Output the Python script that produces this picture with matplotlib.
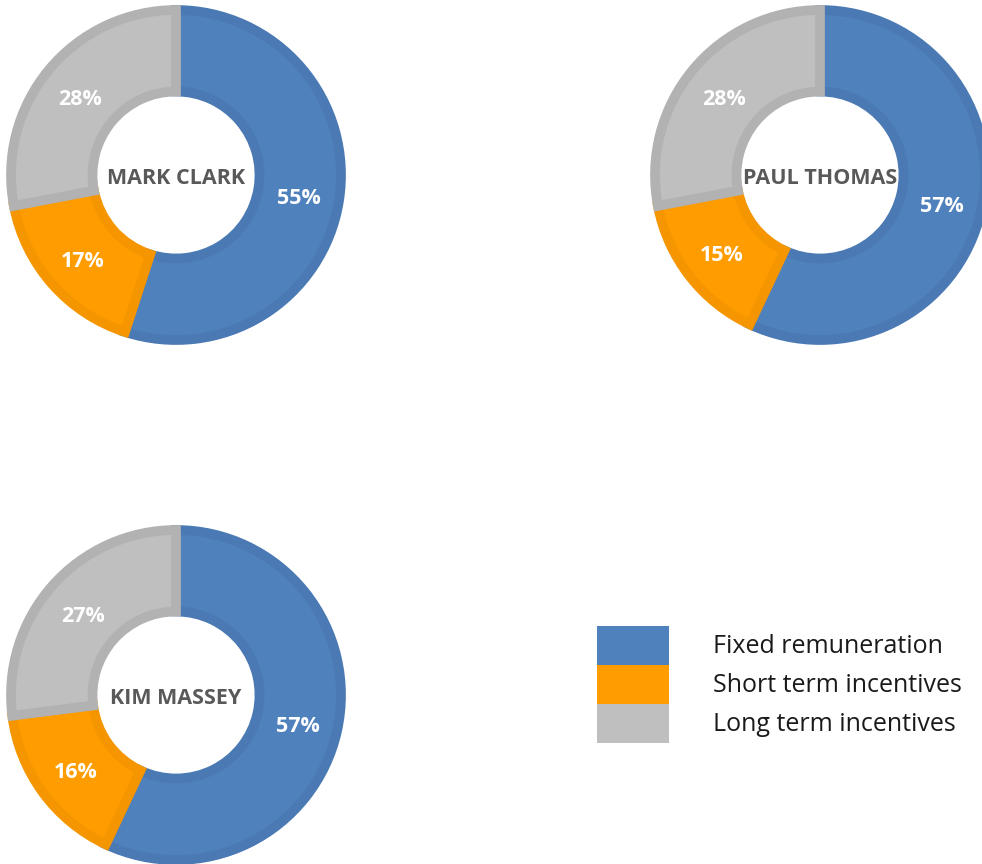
import matplotlib
matplotlib.use("Agg")
import matplotlib.pyplot as plt
from matplotlib.patches import Rectangle

names = ["MARK CLARK", "PAUL THOMAS", "KIM MASSEY"]
fixed = [55, 57, 57]
short_term = [17, 15, 16]
long_term = [28, 28, 27]
categories = ["Fixed remuneration", "Short term incentives", "Long term incentives"]

colors = ["#4F81BD", "#FF9C00", "#BFBFBF"]
edge_colors = ["#4A79B3", "#F59500", "#B2B2B2"]

W, H = 982, 864
fig = plt.figure(figsize=(W / 100, H / 100), dpi=100)
ax = fig.add_axes([0, 0, 1, 1])

centers = [(176, 175), (820, 175), (176, 695)]
R = 165
ring = 0.494

for name, f, s, l, (cx, cy) in zip(names, fixed, short_term, long_term, centers):
    wedges, texts, autotexts = ax.pie(
        [f, s, l], colors=colors, startangle=90, counterclock=False,
        center=(cx, H - cy), radius=R, pctdistance=0.755,
        autopct=lambda p: f"{p:.0f}%",
        wedgeprops=dict(width=ring * R, linewidth=0),
        textprops=dict(color="white", fontsize=15.5, fontweight="bold", family="Open Sans"),
        frame=True,
    )
    for t in autotexts:
        x, y = t.get_position()
        t.set_position((x, y - 4))
    for w, ec in zip(wedges, edge_colors):
        w.set_edgecolor(ec)
        w.set_linewidth(7)
        w.set_clip_path(w)
    ax.text(cx, H - cy - 4, name, ha="center", va="center", fontsize=15.5,
            fontweight="bold", color="#595959", family="Open Sans")

# legend
box_x, box_w = 597, 72
box_tops = [626, 665, 704]
box_h = 39
for c, top, label in zip(colors, box_tops, categories):
    ax.add_patch(Rectangle((box_x, H - top - box_h), box_w, box_h, facecolor=c, edgecolor="none"))
    ax.text(713, H - top - box_h / 2 - 1, label, ha="left", va="center", fontsize=18,
            color="#1a1a1a", family="Open Sans")

ax.set_xlim(0, W)
ax.set_ylim(0, H)
ax.set_aspect("equal")
ax.axis("off")
fig.savefig("out.png", dpi=100)
